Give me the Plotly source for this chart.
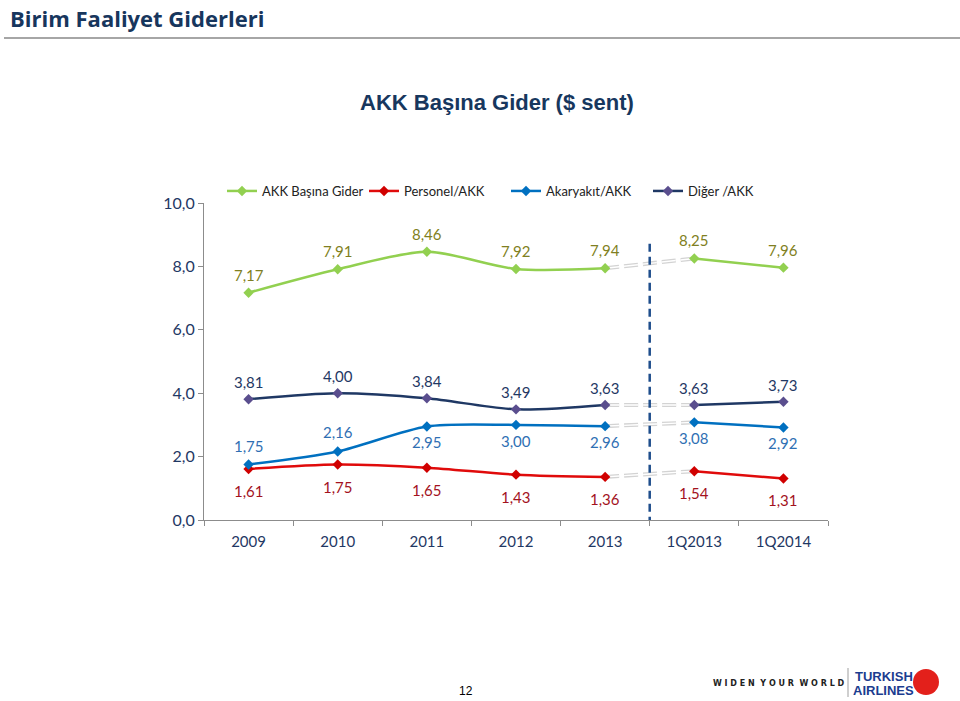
import plotly.graph_objects as go

categories = ["2009", "2010", "2011", "2012", "2013", "1Q2013", "1Q2014"]
akk_basina = [7.17, 7.91, 8.46, 7.92, 7.94, 8.25, 7.96]
personel = [1.61, 1.75, 1.65, 1.43, 1.36, 1.54, 1.31]
akaryakit = [1.75, 2.16, 2.95, 3.00, 2.96, 3.08, 2.92]
diger = [3.81, 4.00, 3.84, 3.49, 3.63, 3.63, 3.73]
series_names = ["AKK Başına Gider", "Personel/AKK", "Akaryakıt/AKK", "Diğer /AKK"]
y_ticks = [0, 2, 4, 6, 8, 10]
y_tick_labels = ["0,0", "2,0", "4,0", "6,0", "8,0", "10,0"]

W, H = 960, 701
L, R, T, B = 204, 828, 203, 520  # plot area in window pixels


def px(x):
    return (x - L) / (R - L)


def py(y):
    return (B - y) / (B - T)


def fmt(v):
    return f"{v:.2f}".replace(".", ",")


FONT = "Lato, 'Open Sans', sans-serif"

# name, values, line colour, marker colour, label colour, label shifts (px, + is up)
series = [
    (series_names[0], akk_basina, "#92D050", "#92D050", "#7F7F22", [18] * 7),
    (series_names[1], personel, "#E00B0B", "#D00000", "#A3121E", [-22] * 7),
    (series_names[2], akaryakit, "#0070C0", "#0070C0", "#2F6FB3", [19, 20] + [-16] * 5),
    (series_names[3], diger, "#1F3864", "#5A4E8E", "#1F3864", [17] * 7),
]

fig = go.Figure()

# gap connectors (double light-gray dashed lines)
for name, vals, lc, mc, tc, shifts in series:
    xs = categories[4:6]
    ys = vals[4:6]
    fig.add_trace(go.Scatter(x=xs, y=ys, mode="lines", showlegend=False, hoverinfo="skip",
                             line=dict(color="#D3D3D3", width=4, dash="14px,5px")))
    fig.add_trace(go.Scatter(x=xs, y=ys, mode="lines", showlegend=False, hoverinfo="skip",
                             line=dict(color="white", width=1.4, dash="14px,5px")))

annotations = []
for name, vals, lc, mc, tc, shifts in series:
    for seg, show in ((slice(0, 5), True), (slice(5, 7), False)):
        fig.add_trace(go.Scatter(
            x=categories[seg], y=vals[seg], name=name, legendgroup=name, showlegend=show,
            mode="lines+markers",
            line=dict(color=lc, width=2.5, shape="spline", smoothing=0.8),
            marker=dict(symbol="diamond", size=8, color=mc),
        ))
    for i, (v, s) in enumerate(zip(vals, shifts)):
        annotations.append(dict(x=i, y=v, xref="x", yref="y", text=fmt(v), showarrow=False,
                                yshift=s, xanchor="center", yanchor="middle",
                                font=dict(family=FONT, size=15, color=tc)))

fig.add_shape(type="line", xref="x", yref="y", x0=4.5, x1=4.5, y0=-0.15, y1=8.85,
              line=dict(color="#1F4E8C", width=2.5, dash="8px,5px"))

# header line
fig.add_shape(type="line", xref="paper", yref="paper", x0=px(4), x1=px(960), y0=py(38), y1=py(38),
              line=dict(color="#A6A6A6", width=2))
# logo divider
fig.add_shape(type="line", xref="paper", yref="paper", x0=px(848), x1=px(848), y0=py(668), y1=py(697),
              line=dict(color="#BFBFBF", width=1.5))
# logo circle
fig.add_shape(type="circle", xref="paper", yref="paper", x0=px(913), x1=px(939), y0=py(695), y1=py(669),
              fillcolor="#E3201B", line=dict(width=0))

page_texts = [
    dict(text="<b>Birim Faaliyet Giderleri</b>", x=px(8), y=py(1), xanchor="left", yanchor="top",
         font=dict(family="'Open Sans', Lato, sans-serif", size=22, color="#17365D")),
    dict(text="<b>AKK Başına Gider ($ sent)</b>", x=px(497), y=py(103), xanchor="center", yanchor="middle",
         font=dict(family="Liberation Sans, Arial, sans-serif", size=22, color="#17375E")),
    dict(text="12", x=px(466), y=py(691), xanchor="center", yanchor="middle",
         font=dict(family="Liberation Sans, Arial, sans-serif", size=12, color="#000000")),
    dict(text="<b>W I D E N  Y O U R  W O R L D</b>", x=px(779), y=py(683), xanchor="center", yanchor="middle",
         font=dict(family="DejaVu Sans, sans-serif", size=8, color="#222222")),
    dict(text="<b>TURKISH</b>", x=px(884), y=py(676), xanchor="center", yanchor="middle",
         font=dict(family="Liberation Sans, Arial, sans-serif", size=13, color="#1B3C8F")),
    dict(text="<b>AIRLINES</b>", x=px(884), y=py(690), xanchor="center", yanchor="middle",
         font=dict(family="Liberation Sans, Arial, sans-serif", size=13, color="#1B3C8F")),
]
for a in page_texts:
    a.update(xref="paper", yref="paper", showarrow=False)
annotations += page_texts

fig.update_layout(
    width=W, height=H,
    margin=dict(l=L, r=W - R, t=T, b=H - B),
    paper_bgcolor="white", plot_bgcolor="white",
    font=dict(family=FONT, color="#1F3864"),
    showlegend=True,
    legend=dict(orientation="h", x=px(222), y=py(191), xanchor="left", yanchor="middle",
                font=dict(family=FONT, size=13, color="#222222"), bgcolor="rgba(0,0,0,0)",
                itemwidth=30, entrywidth=97),
    annotations=annotations,
    xaxis=dict(type="category", categoryorder="array", categoryarray=categories,
               range=[-0.5, 6.5], showgrid=False, showline=True, linecolor="#8C8C8C", linewidth=1,
               ticks="outside", tickson="boundaries", ticklen=5, tickcolor="#8C8C8C",
               ticklabelstandoff=8,
               tickfont=dict(family=FONT, size=15, color="#1F3864"), zeroline=False),
    yaxis=dict(range=[0, 10], tickvals=y_ticks, ticktext=y_tick_labels, showgrid=False,
               showline=True, linecolor="#8C8C8C", linewidth=1, ticks="outside", ticklen=5,
               tickcolor="#8C8C8C", tickfont=dict(family=FONT, size=16, color="#1F3864"),
               zeroline=False),
)

fig.write_html("out.html", config={"displayModeBar": False},
               post_script="document.body.style.margin='0';document.body.style.overflow='hidden';")
